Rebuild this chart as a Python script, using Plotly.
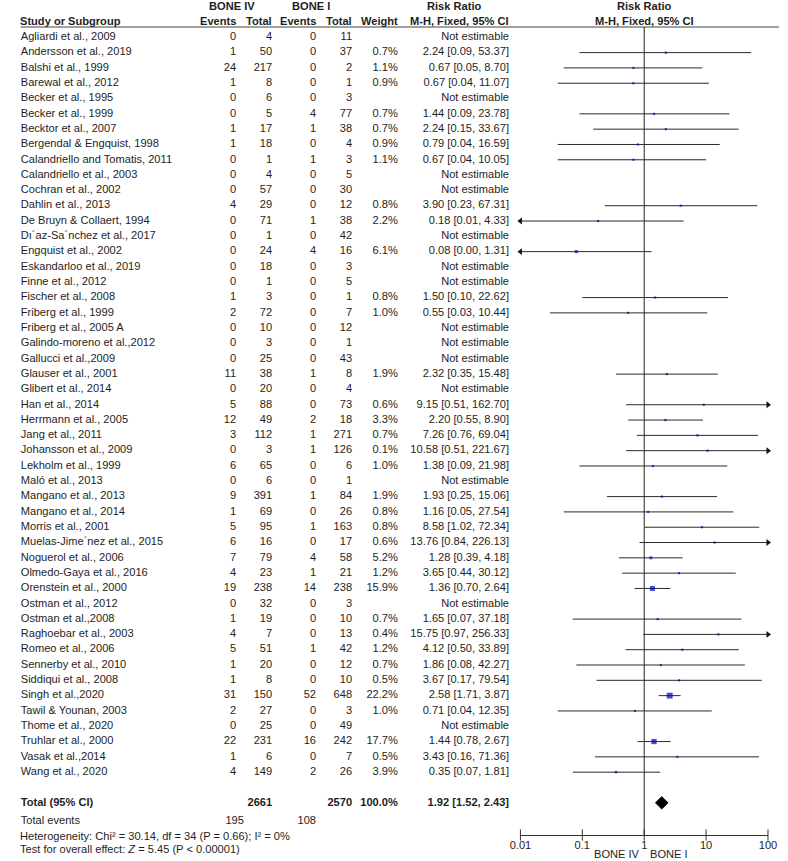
import math
import plotly.graph_objects as go

# ---------------- data ----------------
studies = [
    "Agliardi et al., 2009", "Andersson et al., 2019", "Balshi et al., 1999", "Barewal et al., 2012",
    "Becker et al., 1995", "Becker et al., 1999", "Becktor et al., 2007", "Bergendal & Engquist, 1998",
    "Calandriello and Tomatis, 2011", "Calandriello et al., 2003", "Cochran et al., 2002", "Dahlin et al., 2013",
    "De Bruyn & Collaert, 1994", "Dı´az-Sa´nchez et al., 2017", "Engquist et al., 2002", "Eskandarloo et al., 2019",
    "Finne et al., 2012", "Fischer et al., 2008", "Friberg et al., 1999", "Friberg et al., 2005 A",
    "Galindo-moreno et al.,2012", "Gallucci et al.,2009", "Glauser et al., 2001", "Glibert et al., 2014",
    "Han et al., 2014", "Herrmann et al., 2005", "Jang et al., 2011", "Johansson et al., 2009",
    "Lekholm et al., 1999", "Maló et al., 2013", "Mangano et al., 2013", "Mangano et al., 2014",
    "Morris et al., 2001", "Muelas-Jime´nez et al., 2015", "Noguerol et al., 2006", "Olmedo-Gaya et al., 2016",
    "Orenstein et al., 2000", "Ostman et al., 2012", "Ostman et al.,2008", "Raghoebar et al., 2003",
    "Romeo et al., 2006", "Sennerby et al., 2010", "Siddiqui et al., 2008", "Singh et al.,2020",
    "Tawil & Younan, 2003", "Thome et al., 2020", "Truhlar et al., 2000", "Vasak et al.,2014",
    "Wang et al., 2020",
]
events_iv = [0, 1, 24, 1, 0, 0, 1, 1, 0, 0, 0, 4, 0, 0, 0, 0, 0, 1, 2, 0, 0, 0, 11, 0, 5, 12, 3, 0, 6, 0,
             9, 1, 5, 6, 7, 4, 19, 0, 1, 4, 5, 1, 1, 31, 2, 0, 22, 1, 4]
total_iv = [4, 50, 217, 8, 6, 5, 17, 18, 1, 4, 57, 29, 71, 1, 24, 18, 1, 3, 72, 10, 3, 25, 38, 20, 88, 49, 112,
            3, 65, 6, 391, 69, 95, 16, 79, 23, 238, 32, 19, 7, 51, 20, 8, 150, 27, 25, 231, 6, 149]
events_i = [0, 0, 0, 0, 0, 4, 1, 0, 1, 0, 0, 0, 1, 0, 4, 0, 0, 0, 0, 0, 0, 0, 1, 0, 0, 2, 1, 1, 0, 0,
            1, 0, 1, 0, 4, 1, 14, 0, 0, 0, 1, 0, 0, 52, 0, 0, 16, 0, 2]
total_i = [11, 37, 2, 1, 3, 77, 38, 4, 3, 5, 30, 12, 38, 42, 16, 3, 5, 1, 7, 12, 1, 43, 8, 4, 73, 18, 271,
           126, 6, 1, 84, 26, 163, 17, 58, 21, 238, 3, 10, 13, 42, 12, 10, 648, 3, 49, 242, 7, 26]
weight = [None, 0.7, 1.1, 0.9, None, 0.7, 0.7, 0.9, 1.1, None, None, 0.8, 2.2, None, 6.1, None, None, 0.8, 1.0,
          None, None, None, 1.9, None, 0.6, 3.3, 0.7, 0.1, 1.0, None, 1.9, 0.8, 0.8, 0.6, 5.2, 1.2, 15.9, None,
          0.7, 0.4, 1.2, 0.7, 0.5, 22.2, 1.0, None, 17.7, 0.5, 3.9]
rr = [None, 2.24, 0.67, 0.67, None, 1.44, 2.24, 0.79, 0.67, None, None, 3.90, 0.18, None, 0.08, None, None,
      1.50, 0.55, None, None, None, 2.32, None, 9.15, 2.20, 7.26, 10.58, 1.38, None, 1.93, 1.16, 8.58, 13.76,
      1.28, 3.65, 1.36, None, 1.65, 15.75, 4.12, 1.86, 3.67, 2.58, 0.71, None, 1.44, 3.43, 0.35]
ci_lo = [None, 0.09, 0.05, 0.04, None, 0.09, 0.15, 0.04, 0.04, None, None, 0.23, 0.01, None, 0.00, None, None,
         0.10, 0.03, None, None, None, 0.35, None, 0.51, 0.55, 0.76, 0.51, 0.09, None, 0.25, 0.05, 1.02, 0.84,
         0.39, 0.44, 0.70, None, 0.07, 0.97, 0.50, 0.08, 0.17, 1.71, 0.04, None, 0.78, 0.16, 0.07]
ci_hi = [None, 53.37, 8.70, 11.07, None, 23.78, 33.67, 16.59, 10.05, None, None, 67.31, 4.33, None, 1.31, None,
         None, 22.62, 10.44, None, None, None, 15.48, None, 162.70, 8.90, 69.04, 221.67, 21.98, None, 15.06,
         27.54, 72.34, 226.13, 4.18, 30.12, 2.64, None, 37.18, 256.33, 33.89, 42.27, 79.54, 3.87, 12.35, None,
         2.67, 71.36, 1.81]

total_n_iv, total_n_i = 2661, 2570
total_events_iv, total_events_i = 195, 108
pooled_rr, pooled_lo, pooled_hi = 1.92, 1.52, 2.43
heterogeneity = "Heterogeneity: Chi² = 30.14, df = 34 (P = 0.66); I² = 0%"
overall = "Test for overall effect: <i>Z</i> = 5.45 (P &lt; 0.00001)"
tick_vals = [0.01, 0.1, 1, 10, 100]
tick_text = ["0.01", "0.1", "1", "10", "100"]
label_left, label_right = "BONE IV", "BONE I"

# ---------------- layout geometry (pixels) ----------------
W, H = 788, 861
ROW0_PX, ROW_PX = 37.3, 15.31
AX_LEFT_PX, AX_RIGHT_PX = 522.7, 776.7
AXIS_LINE_PX = 835
HEADER_LINE_PX = 27
FONT = "Liberation Sans, Arial, sans-serif"
FS = 11.1
TXT = "#1e1e1e"

n = len(studies)
rows = list(range(n))
total_row = n + 1
y_top = -ROW0_PX / ROW_PX
y_bot = (AXIS_LINE_PX - ROW0_PX) / ROW_PX

def py(px):
    return 1 - px / H

def row_of_px(px):
    return (px - ROW0_PX) / ROW_PX

fig = go.Figure()

# ---------------- table text ----------------
def text_col(xpx, values, ys, pos="middle left", bold=False):
    txt = [("<b>%s</b>" % v if bold else str(v)) if v is not None else "" for v in values]
    fig.add_trace(go.Scatter(
        x=[xpx] * len(values), y=ys, text=txt, mode="text", textposition=pos,
        textfont=dict(family=FONT, size=FS, color=TXT), xaxis="x2", yaxis="y",
        hoverinfo="skip", showlegend=False, cliponaxis=False))

text_col(10, studies, rows, pos="middle right")
text_col(231, events_iv, rows)
text_col(268, total_iv, rows)
text_col(313, events_i, rows)
text_col(350, total_i, rows)
text_col(397, ["%.1f%%" % w if w is not None else "" for w in weight], rows)
rr_txt = ["%.2f [%.2f, %.2f]" % (r, l, h) if r is not None else "Not estimable"
          for r, l, h in zip(rr, ci_lo, ci_hi)]
text_col(511, rr_txt, rows)

# totals
text_col(10, ["Total (95% CI)"], [total_row], pos="middle right", bold=True)
text_col(268, [total_n_iv], [total_row], bold=True)
text_col(350, [total_n_i], [total_row], bold=True)
text_col(397, ["100.0%"], [total_row], bold=True)
text_col(511, ["%.2f [%.2f, %.2f]" % (pooled_rr, pooled_lo, pooled_hi)], [total_row], bold=True)
ev_row = row_of_px(821)
text_col(10, ["Total events"], [ev_row], pos="middle right")
text_col(239, [total_events_iv], [ev_row])
text_col(313, [total_events_i], [ev_row])

# ---------------- forest marks ----------------
xmin, xmax = tick_vals[0], tick_vals[-1]
lx, ly = [], []
la_x, la_y, ra_x, ra_y = [], [], [], []
mx, my, ms = [], [], []
for i in rows:
    if rr[i] is None:
        continue
    lo = max(ci_lo[i], xmin)
    hi = min(ci_hi[i], xmax)
    lx += [lo, hi, None]
    ly += [i, i, None]
    if ci_lo[i] <= xmin:
        la_x.append(xmin); la_y.append(i)
    if ci_hi[i] > xmax:
        ra_x.append(xmax); ra_y.append(i)
    mx.append(rr[i]); my.append(i); ms.append(max(2.2, 1.25 * weight[i] ** 0.5))

fig.add_trace(go.Scatter(x=lx, y=ly, mode="lines", line=dict(color="#2a2a2a", width=1),
                         hoverinfo="skip", showlegend=False, xaxis="x", yaxis="y", cliponaxis=False))
fig.add_trace(go.Scatter(x=la_x, y=la_y, mode="markers", cliponaxis=False,
                         marker=dict(symbol="triangle-left", size=6, color="#111"),
                         hoverinfo="skip", showlegend=False, xaxis="x", yaxis="y"))
fig.add_trace(go.Scatter(x=ra_x, y=ra_y, mode="markers", cliponaxis=False,
                         marker=dict(symbol="triangle-right", size=6, color="#111"),
                         hoverinfo="skip", showlegend=False, xaxis="x", yaxis="y"))
fig.add_trace(go.Scatter(x=mx, y=my, mode="markers", cliponaxis=False,
                         marker=dict(symbol="square", size=ms, color="#0000b8", line=dict(width=0)),
                         hoverinfo="skip", showlegend=False, xaxis="x", yaxis="y"))
# pooled diamond
dh = 0.4
fig.add_trace(go.Scatter(x=[pooled_lo, pooled_rr, pooled_hi, pooled_rr, pooled_lo],
                         y=[total_row, total_row - dh, total_row, total_row + dh, total_row],
                         mode="lines", fill="toself", fillcolor="#000", line=dict(color="#000", width=1),
                         hoverinfo="skip", showlegend=False, xaxis="x", yaxis="y"))
# axis ticks crossing the axis line
fig.add_trace(go.Scatter(x=tick_vals, y=[y_bot] * len(tick_vals), mode="markers", cliponaxis=False,
                         marker=dict(symbol="line-ns", size=8, line=dict(color="#333", width=1)),
                         hoverinfo="skip", showlegend=False, xaxis="x", yaxis="y"))

# ---------------- headers / footers ----------------
ann = []
def note(text, xpx, ypx, anchor="center", bold=True, xref="paper", xshift=0):
    ann.append(dict(text=("<b>%s</b>" % text) if bold else text,
                    x=(xpx / W) if xref == "paper" else xpx, xref=xref, xshift=xshift,
                    y=py(ypx), yref="paper", xanchor=anchor, yanchor="middle", showarrow=False,
                    font=dict(family=FONT, size=FS, color=TXT)))

one = math.log10(1)
note("BONE IV", 227, 6)
note("BONE I", 308, 6)
note("Risk Ratio", 455, 6)
note("Risk Ratio", one, 6, xref="x")
note("Study or Subgroup", 7, 21, anchor="left")
note("Events", 233, 21, anchor="right")
note("Total", 270, 21, anchor="right")
note("Events", 315, 21, anchor="right")
note("Total", 352, 21, anchor="right")
note("Weight", 399, 21, anchor="right")
note("M-H, Fixed, 95% CI", 513, 21, anchor="right")
note("M-H, Fixed, 95% CI", one, 21, xref="x")
note(heterogeneity, 7, 836, anchor="left", bold=False)
note(overall, 7, 849, anchor="left", bold=False)
note(label_left, one, 854, anchor="right", bold=False, xref="x", xshift=-2)
note(label_right, one, 854, anchor="left", bold=False, xref="x", xshift=4)

shapes = [
    dict(type="line", xref="paper", yref="paper", x0=10 / W, x1=1, y0=py(HEADER_LINE_PX), y1=py(HEADER_LINE_PX),
         line=dict(color="#444", width=1)),
    dict(type="line", xref="x", yref="paper", x0=1, x1=1, y0=py(AXIS_LINE_PX), y1=py(HEADER_LINE_PX),
         line=dict(color="#222", width=1)),
]

fig.update_layout(
    width=W, height=H, margin=dict(l=0, r=0, t=0, b=0),
    paper_bgcolor="white", plot_bgcolor="rgba(0,0,0,0)",
    xaxis=dict(type="log", domain=[AX_LEFT_PX / W, AX_RIGHT_PX / W], range=[-2, 2], anchor="y",
               showgrid=False, zeroline=False, tickvals=tick_vals, ticktext=tick_text,
               ticks="", ticklabelstandoff=0,
               showline=True, linecolor="#333", linewidth=1,
               tickfont=dict(family=FONT, size=FS, color=TXT), fixedrange=True),
    xaxis2=dict(domain=[0, 1], range=[0, W], visible=False, anchor="y", fixedrange=True),
    yaxis=dict(range=[y_bot, y_top], domain=[py(AXIS_LINE_PX), 1], visible=False, fixedrange=True),
    annotations=ann, shapes=shapes, showlegend=False,
)

fig.write_html("out.html", config={"displayModeBar": False, "staticPlot": True},
               post_script="document.body.style.margin='0';document.body.style.overflow='hidden';")
